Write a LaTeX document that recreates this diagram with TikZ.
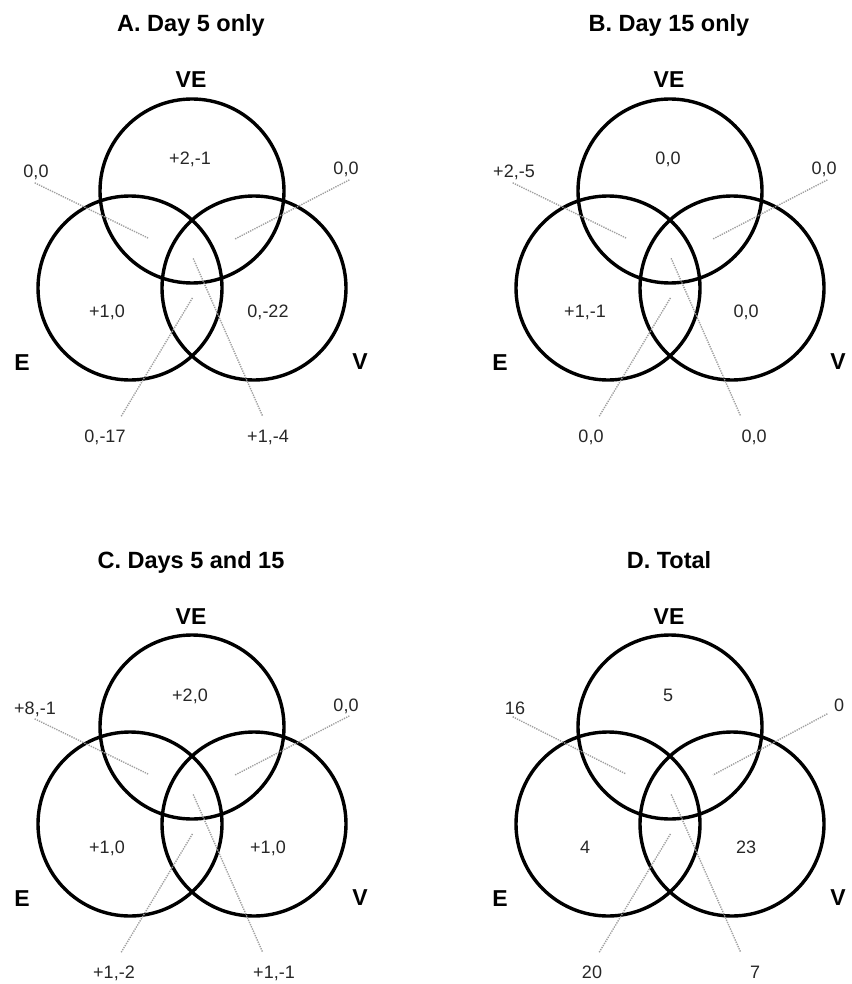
\documentclass[tikz,border=0pt]{standalone}
\usepackage{fontspec}
\setmainfont{Liberation Sans}
\usepackage{tikz}

\begin{document}
\begin{tikzpicture}[
    x=1pt, y=-1pt,
    ring/.style  ={circle,draw=black,line width=3.4pt,minimum size=184pt,
                   inner sep=0pt},
    ttl/.style   ={font=\fontsize{23.5}{28}\selectfont\bfseries,anchor=base},
    setlbl/.style={font=\fontsize{23}{27}\selectfont\bfseries,anchor=base},
    num/.style   ={font=\fontsize{18}{21}\selectfont,text=black!85,
                   anchor=base,inner sep=1pt},
    lead/.style  ={gray!75,line width=1.4pt,dash pattern=on 1.3pt off 1.1pt},
    leadup/.style={lead,shorten <=3pt},
    leaddn/.style={lead,shorten <=14pt},
  ]
  \useasboundingbox (0,0) rectangle (851,984);

  % Panel A: day 5 only
  \begin{scope}
    \node[ttl]    (A-ttl) at (191,32)  {A. Day 5 only};
    \node[ring]   (A-ve)  at (192,191) {};
    \node[ring]   (A-e)   at (130,288) {};
    \node[ring]   (A-v)   at (254,288) {};
    \node[setlbl] (A-vel) at (191,88)  {VE};
    \node[setlbl] (A-el)  at (22,370)  {E};
    \node[setlbl] (A-vl)  at (360,369) {V};
    \node[num]    (A-n1)  at (190,165) {+2,-1};
    \node[num]    (A-n2)  at (107,317) {+1,0};
    \node[num]    (A-n3)  at (268,317) {0,-22};
    \coordinate   (A-ev)  at (148,238);
    \coordinate   (A-vv)  at (235,239);
    \coordinate   (A-evx) at (193,297);
    \coordinate   (A-all) at (193,258);
    \node[num]    (A-lo)  at (36,178)  {0,0};
    \node[num]    (A-ro)  at (346,175) {0,0};
    \node[num]    (A-bl)  at (105,442) {0,-17};
    \node[num]    (A-br)  at (268,442) {+1,-4};
    \draw[leadup] ([xshift=-4pt]A-lo.south) -- (A-ev);
    \draw[leadup] ([xshift=6pt]A-ro.south)  -- (A-vv);
    \draw[leaddn] ([xshift=9pt]A-bl.north)  -- (A-evx);
    \draw[leaddn] (A-br.north) -- (A-all);
  \end{scope}

  % Panel B: day 15 only
  \begin{scope}[shift={(478,0)}]
    \node[ttl]    (B-ttl) at (191,32)  {B. Day 15 only};
    \node[ring]   (B-ve)  at (192,191) {};
    \node[ring]   (B-e)   at (130,288) {};
    \node[ring]   (B-v)   at (254,288) {};
    \node[setlbl] (B-vel) at (191,88)  {VE};
    \node[setlbl] (B-el)  at (22,370)  {E};
    \node[setlbl] (B-vl)  at (360,369) {V};
    \node[num]    (B-n1)  at (190,165) {0,0};
    \node[num]    (B-n2)  at (107,317) {+1,-1};
    \node[num]    (B-n3)  at (268,317) {0,0};
    \coordinate   (B-ev)  at (148,238);
    \coordinate   (B-vv)  at (235,239);
    \coordinate   (B-evx) at (193,297);
    \coordinate   (B-all) at (193,258);
    \node[num]    (B-lo)  at (36,178)  {+2,-5};
    \node[num]    (B-ro)  at (346,175) {0,0};
    \node[num]    (B-bl)  at (113,442) {0,0};
    \node[num]    (B-br)  at (276,442) {0,0};
    \draw[leadup] ([xshift=-4pt]B-lo.south) -- (B-ev);
    \draw[leadup] ([xshift=6pt]B-ro.south)  -- (B-vv);
    \draw[leaddn] ([xshift=1pt]B-bl.north)  -- (B-evx);
    \draw[leaddn] ([xshift=-8pt]B-br.north) -- (B-all);
  \end{scope}

  % Panel C: days 5 and 15
  \begin{scope}[shift={(0,536)}]
    \node[ttl]    (C-ttl) at (191,32)  {C. Days 5 and 15};
    \node[ring]   (C-ve)  at (192,191) {};
    \node[ring]   (C-e)   at (130,288) {};
    \node[ring]   (C-v)   at (254,288) {};
    \node[setlbl] (C-vel) at (191,88)  {VE};
    \node[setlbl] (C-el)  at (22,370)  {E};
    \node[setlbl] (C-vl)  at (360,369) {V};
    \node[num]    (C-n1)  at (190,165) {+2,0};
    \node[num]    (C-n2)  at (107,317) {+1,0};
    \node[num]    (C-n3)  at (268,317) {+1,0};
    \coordinate   (C-ev)  at (148,238);
    \coordinate   (C-vv)  at (235,239);
    \coordinate   (C-evx) at (193,297);
    \coordinate   (C-all) at (193,258);
    \node[num]    (C-lo)  at (35,178)  {+8,-1};
    \node[num]    (C-ro)  at (346,175) {0,0};
    \node[num]    (C-bl)  at (114,442) {+1,-2};
    \node[num]    (C-br)  at (274,442) {+1,-1};
    \draw[leadup] ([xshift=-3pt]C-lo.south) -- (C-ev);
    \draw[leadup] ([xshift=6pt]C-ro.south)  -- (C-vv);
    \draw[leaddn] (C-bl.north) -- (C-evx);
    \draw[leaddn] ([xshift=-6pt]C-br.north) -- (C-all);
  \end{scope}

  % Panel D: total
  \begin{scope}[shift={(478,536)}]
    \node[ttl]    (D-ttl) at (191,32)  {D. Total};
    \node[ring]   (D-ve)  at (192,191) {};
    \node[ring]   (D-e)   at (130,288) {};
    \node[ring]   (D-v)   at (254,288) {};
    \node[setlbl] (D-vel) at (191,88)  {VE};
    \node[setlbl] (D-el)  at (22,370)  {E};
    \node[setlbl] (D-vl)  at (360,369) {V};
    \node[num]    (D-n1)  at (190,165) {5};
    \node[num]    (D-n2)  at (107,317) {4};
    \node[num]    (D-n3)  at (268,317) {23};
    \coordinate   (D-ev)  at (148,238);
    \coordinate   (D-vv)  at (235,239);
    \coordinate   (D-evx) at (193,297);
    \coordinate   (D-all) at (193,258);
    \node[num]    (D-lo)  at (37,178)  {16};
    \node[num]    (D-ro)  at (361,175) {0};
    \node[num]    (D-bl)  at (114,442) {20};
    \node[num]    (D-br)  at (277,442) {7};
    \draw[leadup] ([xshift=-5pt]D-lo.south) -- (D-ev);
    \draw[leadup] ([xshift=-9pt]D-ro.south) -- (D-vv);
    \draw[leaddn] (D-bl.north) -- (D-evx);
    \draw[leaddn] ([xshift=-9pt]D-br.north) -- (D-all);
  \end{scope}
\end{tikzpicture}
\end{document}
